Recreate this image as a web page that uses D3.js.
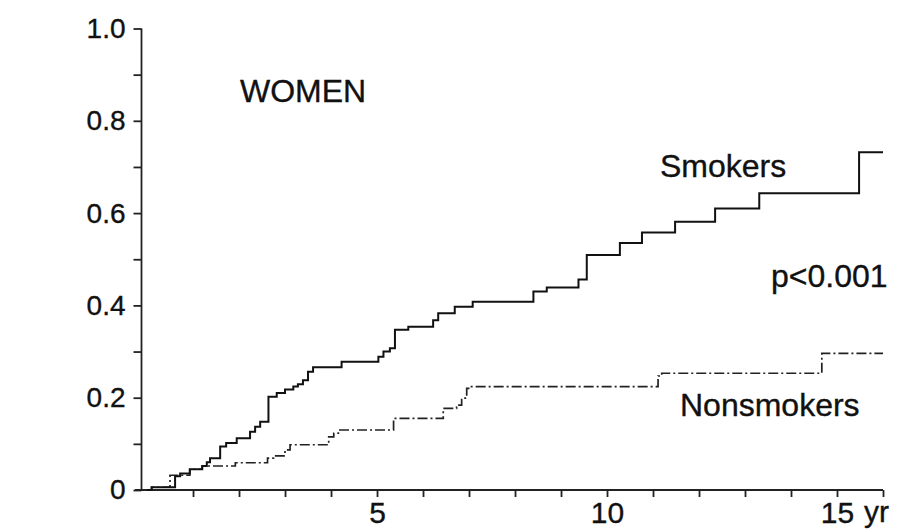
<!DOCTYPE html>
<html>
<head>
<meta charset="utf-8">
<script src="https://cdn.jsdelivr.net/npm/d3@7"></script>
<style>
  body { margin: 0; background: #fff; }
  svg { display: block; }
  text { font-family: "Liberation Sans", Arial, Helvetica, sans-serif; fill: #111; stroke: #111; stroke-width: 0.35px; }
</style>
</head>
<body>
<script>
// years since baseline and cumulative incidence
const smokerYears = [0, 0.1, 0.61, 0.72, 0.93, 1.2, 1.3, 1.37, 1.59, 1.72, 1.95, 2.24, 2.35, 2.46,
  2.64, 2.82, 3.0, 3.18, 3.28, 3.39, 3.5, 3.61, 4.23, 5.03, 5.14, 5.28, 5.39, 5.68, 6.22, 6.33,
  6.69, 7.08, 8.4, 8.69, 9.38, 9.56, 10.28, 10.76, 11.48, 12.35, 13.31, 15.48, 16.0];
const smokerValues = [0, 0.006, 0.03, 0.036, 0.045, 0.052, 0.06, 0.069, 0.094, 0.102, 0.112, 0.126, 0.137, 0.148,
  0.202, 0.21, 0.218, 0.224, 0.229, 0.238, 0.256, 0.266, 0.278, 0.289, 0.3, 0.307, 0.347, 0.354, 0.368, 0.383,
  0.397, 0.408, 0.43, 0.439, 0.456, 0.509, 0.535, 0.558, 0.581, 0.61, 0.643, 0.732, 0.732];

const nonsmokerYears = [0, 0.1, 0.5, 0.93, 1.2, 1.92, 2.62, 2.75, 3.0, 3.11, 3.95, 4.06, 4.16,
  5.36, 6.44, 6.73, 6.84, 6.95, 7.02, 11.11, 11.19, 14.67, 16.0];
const nonsmokerValues = [0, 0.006, 0.032, 0.045, 0.052, 0.059, 0.069, 0.074, 0.087, 0.098, 0.115, 0.123, 0.13,
  0.155, 0.177, 0.184, 0.199, 0.22, 0.224, 0.247, 0.253, 0.296, 0.296];

const xTicks = d3.range(1, 17);
const xLabels = { 5: "5", 10: "10", 15: "15" };
const yTicks = d3.range(0, 11).map((d) => d / 10);
const yLabels = { 0: "0", 0.2: "0.2", 0.4: "0.4", 0.6: "0.6", 0.8: "0.8", 1: "1.0" };

const width = 900;
const height = 529;

const svg = d3.select("body").append("svg")
  .attr("width", width)
  .attr("height", height);

const x = d3.scaleLinear().domain([-0.12, 16]).range([141.5, 883]);
const y = d3.scaleLinear().domain([0, 1]).range([490, 28.5]);

// x axis
const xAxis = svg.append("g")
  .attr("transform", `translate(0,${y(0)})`)
  .call(d3.axisBottom(x).tickValues(xTicks).tickSize(7).tickPadding(5)
    .tickFormat((d) => xLabels[d] || ""));
xAxis.select(".domain").attr("d", `M135,0H${x(16)}`);

// y axis
const yAxis = svg.append("g")
  .attr("transform", `translate(${x(-0.12)},0)`)
  .call(d3.axisLeft(y).tickValues(yTicks).tickSize(8).tickPadding(8)
    .tickFormat((d) => yLabels[Math.round(d * 10) / 10] || ""));
yAxis.select(".domain").attr("d", `M0,${y(1)}V${y(0)}`);

svg.selectAll(".domain, .tick line")
  .attr("stroke", "#222")
  .attr("stroke-width", 1.8);

xAxis.selectAll("text").attr("font-size", 30).attr("font-family", null).attr("fill", null);
yAxis.selectAll("text").attr("font-size", 28).attr("font-family", null).attr("fill", null);

// unit after the last label
svg.append("text")
  .attr("x", x(15) + 27)
  .attr("y", 522)
  .attr("font-size", 30)
  .text("yr");

const line = d3.line()
  .x((d) => x(d[0]))
  .y((d) => y(d[1]))
  .curve(d3.curveStepAfter);

svg.append("path")
  .datum(d3.zip(nonsmokerYears, nonsmokerValues))
  .attr("fill", "none")
  .attr("stroke", "#222")
  .attr("stroke-width", 1.7)
  .attr("stroke-dasharray", "10,3,2,3")
  .attr("d", line);

svg.append("path")
  .datum(d3.zip(smokerYears, smokerValues))
  .attr("fill", "none")
  .attr("stroke", "#111")
  .attr("stroke-width", 2)
  .attr("d", line);

// annotations
const notes = [
  { text: "WOMEN", x: 240, y: 102, size: 32 },
  { text: "Smokers", x: 660, y: 177, size: 32 },
  { text: "p<0.001", x: 771, y: 287, size: 32 },
  { text: "Nonsmokers", x: 680, y: 416, size: 32 },
];

svg.selectAll(".note")
  .data(notes)
  .join("text")
  .attr("class", "note")
  .attr("x", (d) => d.x)
  .attr("y", (d) => d.y)
  .attr("font-size", (d) => d.size)
  .text((d) => d.text);
</script>
</body>
</html>
